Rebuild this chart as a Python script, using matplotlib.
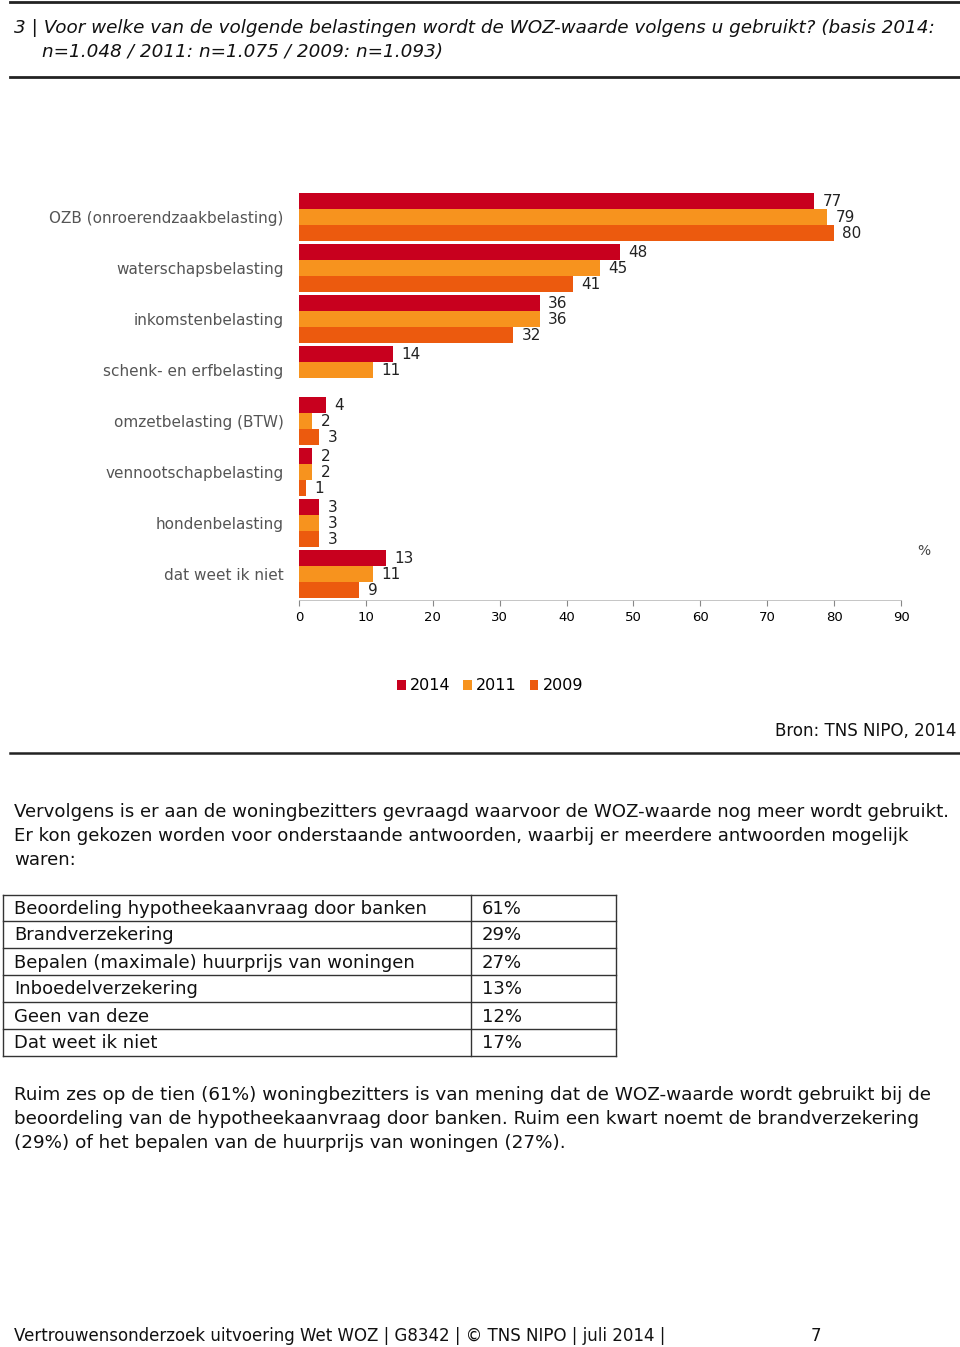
import numpy as np
import matplotlib.pyplot as plt

# data
categories = ['OZB (onroerendzaakbelasting)', 'waterschapsbelasting', 'inkomstenbelasting',
              'schenk- en erfbelasting', 'omzetbelasting (BTW)', 'vennootschapbelasting',
              'hondenbelasting', 'dat weet ik niet']
v2014 = [77, 48, 36, 14, 4, 2, 3, 13]
v2011 = [79, 45, 36, 11, 2, 2, 3, 11]
v2009 = [80, 41, 32, np.nan, 3, 1, 3, 9]
years = ['2014', '2011', '2009']
colors = ['#C8001E', '#F7931E', '#EC5A0E']

table_items = ['Beoordeling hypotheekaanvraag door banken', 'Brandverzekering',
               'Bepalen (maximale) huurprijs van woningen', 'Inboedelverzekering',
               'Geen van deze', 'Dat weet ik niet']
table_pct = ['61%', '29%', '27%', '13%', '12%', '17%']

plt.rcParams['font.family'] = 'DejaVu Sans'

W, H = 960, 1347
fig = plt.figure(figsize=(W / 100, H / 100), dpi=100)

# page overlay in pixel coordinates
pg = fig.add_axes([0, 0, 1, 1])
pg.set_xlim(0, W)
pg.set_ylim(H, 0)
pg.axis('off')

# chart axes
left, right = 299, 901
top, bottom = 191.5, 599.5
ax = fig.add_axes([left / W, 1 - bottom / H, (right - left) / W, (bottom - top) / H])

y = np.arange(len(categories))
bh = 0.314
series = [v2014, v2011, v2009]
for k, (vals, c) in enumerate(zip(series, colors)):
    pos = y + (k - 1) * bh
    ax.barh(pos, vals, height=bh, color=c, label=years[k])
    for p, v in zip(pos, vals):
        if np.isnan(v):
            continue
        ax.annotate(f'{v:.0f}', (v, p), xytext=(6, -0.5), textcoords='offset points',
                    va='center', ha='left', fontsize=11, color='#222222')

ax.set_xlim(0, 90)
ax.set_ylim(len(categories) - 0.5, -0.5)
ax.set_xticks(range(0, 91, 10))
ax.tick_params(axis='x', labelsize=9.5, length=4, color='#888888', pad=4)
ax.set_yticks(y)
ax.set_yticklabels(categories, fontsize=11, color='#555555')
ax.tick_params(axis='y', length=0, pad=11)
for s in ['top', 'right', 'left']:
    ax.spines[s].set_visible(False)
ax.spines['bottom'].set_color('#bbbbbb')
ax.spines['bottom'].set_linewidth(0.6)

pg.text(924, 551, '%', fontsize=10, ha='center', va='center', color='#444444')

# legend
leg = fig.legend(loc='center', bbox_to_anchor=(490 / W, 1 - 686 / H), ncol=3, frameon=False,
                 fontsize=11.5, handlelength=0.55, handleheight=0.55, handletextpad=0.25,
                 columnspacing=0.8)

# rules
pg.plot([10, 960], [1.5, 1.5], color='#222222', lw=2)
pg.plot([10, 960], [77, 77], color='#222222', lw=2)
pg.plot([10, 960], [753, 753], color='#222222', lw=1.8)

pg.text(14, 28, '3 | Voor welke van de volgende belastingen wordt de WOZ-waarde volgens u gebruikt? (basis 2014:',
        fontsize=13.2, style='italic', va='center', ha='left', color='#111111')
pg.text(42, 52, 'n=1.048 / 2011: n=1.075 / 2009: n=1.093)',
        fontsize=13.2, style='italic', va='center', ha='left', color='#111111')

pg.text(956, 731, 'Bron: TNS NIPO, 2014', fontsize=12, ha='right', va='center', color='#111111')

body1 = ['Vervolgens is er aan de woningbezitters gevraagd waarvoor de WOZ-waarde nog meer wordt gebruikt.',
         'Er kon gekozen worden voor onderstaande antwoorden, waarbij er meerdere antwoorden mogelijk',
         'waren:']
for i, line in enumerate(body1):
    pg.text(14, 812 + 24 * i, line, fontsize=13.1, ha='left', va='center', color='#111111')

# table
rows_y = [895, 921, 948, 975, 1002, 1029, 1056]
for ry in rows_y:
    pg.plot([3, 616], [ry, ry], color='#333333', lw=1)
for cx in [3, 471, 616]:
    pg.plot([cx, cx], [rows_y[0], rows_y[-1]], color='#333333', lw=1)
for i, (item, pct) in enumerate(zip(table_items, table_pct)):
    cy = (rows_y[i] + rows_y[i + 1]) / 2 + 1
    pg.text(14, cy, item, fontsize=13, ha='left', va='center', color='#111111')
    pg.text(482, cy, pct, fontsize=13, ha='left', va='center', color='#111111')

body2 = ['Ruim zes op de tien (61%) woningbezitters is van mening dat de WOZ-waarde wordt gebruikt bij de',
         'beoordeling van de hypotheekaanvraag door banken. Ruim een kwart noemt de brandverzekering',
         '(29%) of het bepalen van de huurprijs van woningen (27%).']
for i, line in enumerate(body2):
    pg.text(14, 1095 + 24 * i, line, fontsize=13.2, ha='left', va='center', color='#111111')

pg.text(14, 1336, 'Vertrouwensonderzoek uitvoering Wet WOZ | G8342 | \u00a9 TNS NIPO | juli 2014 |',
        fontsize=12, ha='left', va='center', color='#111111')
pg.text(816, 1336, '7', fontsize=12, ha='center', va='center', color='#111111')

fig.savefig('out.png', dpi=100)
